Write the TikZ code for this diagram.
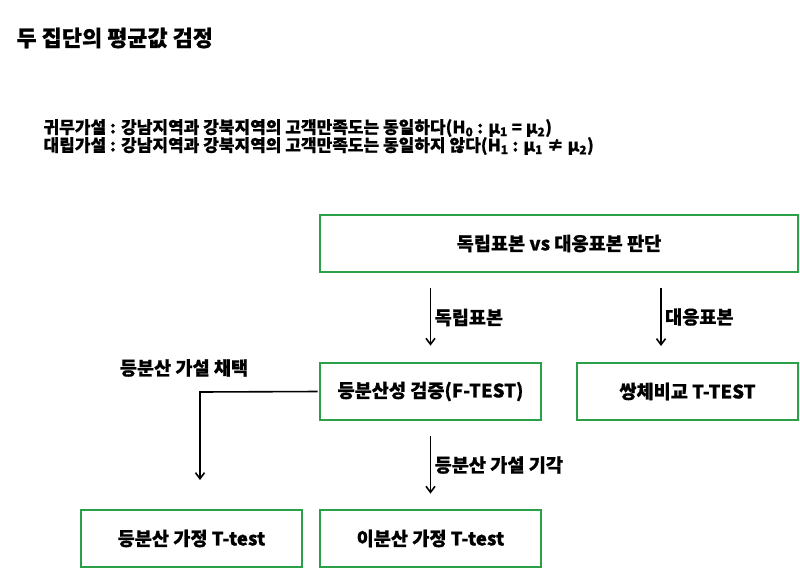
\documentclass[tikz,border=0pt]{standalone}
\usepackage{fontspec}
\setmainfont{Noto Sans CJK KR}[BoldFeatures={FakeBold=0.6}]
\usetikzlibrary{arrows.meta}

\definecolor{boxgreen}{RGB}{44,160,72}

\begin{document}
\begin{tikzpicture}[x=1pt,y=-1pt,
        every node/.style={font=\bfseries},
        testbox/.style={draw=boxgreen, line width=2.8pt, minimum height=57pt, inner sep=0pt, font=\fontsize{18.6}{20}\selectfont\bfseries},
        flow/.style={-{Straight Barb[length=6pt,width=9pt]}, line width=1.6pt},
        choice/.style={font=\fontsize{18.6}{20}\selectfont\bfseries}]
        \useasboundingbox[fill=white] (0,0) rectangle (800,570);

        % title
        \node[anchor=west, font=\fontsize{21.9}{24}\selectfont\bfseries] (title) at (13,38) {두 집단의 평균값 검정};

        % hypotheses
        \node[anchor=west, font=\fontsize{17}{18}\selectfont\bfseries, align=left] (hypo) at (40,137)
            {귀무가설 : 강남지역과 강북지역의 고객만족도는 동일하다(H\textsubscript{0} : μ\textsubscript{1} = μ\textsubscript{2})\\
             대립가설 : 강남지역과 강북지역의 고객만족도는 동일하지 않다(H\textsubscript{1} : μ\textsubscript{1} ≠ μ\textsubscript{2})};

        % boxes
        \node[testbox, minimum width=478pt] (judge) at (559,243.5) {독립표본 vs 대응표본 판단};
        \node[testbox, minimum width=221pt] (ftest) at (430.5,391.5) {등분산성 검증(F-TEST)};
        \node[testbox, minimum width=221pt] (paired) at (687.5,391.5) {쌍체비교 T-TEST};
        \node[testbox, minimum width=221pt] (eqvar) at (191.5,538.5) {등분산 가정 T-test};
        \node[testbox, minimum width=221pt] (neqvar) at (430.5,538.5) {이분산 가정 T-test};

        % arrow ends
        \coordinate (pairstart) at (661,288);
        \coordinate (pairend) at (661,346);
        \coordinate (bend) at (200,392);
        \coordinate (eqend) at (200,480);

        % independent / paired
        \draw[flow, shorten <=15pt, shorten >=16pt] (judge.south -| ftest) -- (ftest.north) node [midway,right,choice] {독립표본};
        \draw[flow] (pairstart) -- (pairend) node [midway,right,choice] {대응표본};

        % equal variance accepted
        \draw[flow, shorten <=1pt] (ftest.west) -- (bend) -- (eqend);
        \node[choice] (accept) at (184,368) {등분산 가설 채택};

        % equal variance rejected
        \draw[flow, shorten <=15pt, shorten >=15pt] (ftest.south) -- (neqvar.north) node [midway,right,choice] {등분산 가설 기각};
    \end{tikzpicture}
\end{document}
